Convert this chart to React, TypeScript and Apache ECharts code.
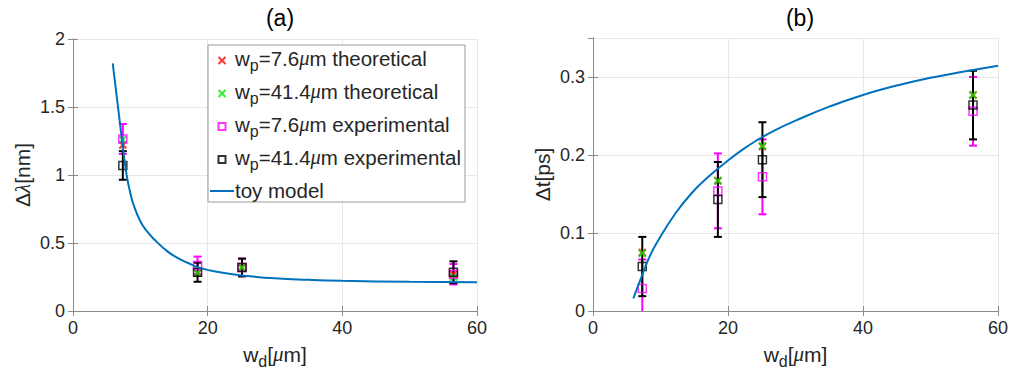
import React, { useEffect, useRef } from "react";
import * as echarts from "echarts";

// ---- Panel (a): spectral width vs w_d ----
const xA = [7.4, 18.5, 25.1, 56.5];
const thA76 = [1.22, 0.28, 0.32, 0.27];
const thA414 = [1.26, 0.28, 0.32, 0.25];
const expA76 = [1.265, 0.335, 0.32, 0.27];
const errA76 = [0.11, 0.065, 0.065, 0.075];
const expA414 = [1.07, 0.285, 0.32, 0.285];
const errA414 = [0.105, 0.07, 0.065, 0.08];
const toyAx = [5.9, 6.5, 7.0, 7.5, 8.0, 8.5, 9.0, 10, 11, 12.2, 13.5, 15, 17, 19, 22, 25, 30, 35, 40, 50, 60];
const toyAy = [1.82, 1.575, 1.37, 1.165, 0.99, 0.87, 0.78, 0.66, 0.585, 0.52, 0.46, 0.405, 0.355, 0.315, 0.283, 0.262, 0.24, 0.229, 0.222, 0.215, 0.211];

// ---- Panel (b): temporal delay vs w_d ----
const xB = [7.3, 18.5, 25.1, 56.3];
const thB76 = [0.075, 0.167, 0.211, 0.277];
const thB414 = [0.074, 0.167, 0.2115, 0.277];
const expB76 = [0.029, 0.154, 0.172, 0.256];
const errB76 = [0.037, 0.048, 0.048, 0.044];
const expB414 = [0.057, 0.143, 0.194, 0.264];
const errB414 = [0.038, 0.048, 0.048, 0.044];
const toyBx = [5.97, 7.2, 8.4, 9.7, 12.2, 14.6, 17.1, 19.6, 22, 24.5, 27, 30, 35, 40, 45, 50, 55, 60];
const toyBy = [0.016, 0.044, 0.07, 0.091, 0.125, 0.151, 0.172, 0.19, 0.206, 0.22, 0.232, 0.244, 0.262, 0.277, 0.289, 0.299, 0.307, 0.3145];

const N_TH76 = "th76";
const N_TH414 = "th414";
const N_EX76 = "ex76";
const N_EX414 = "ex414";
const N_TOY = "toy";

const FONT = "'Liberation Sans Narrow', 'Liberation Sans', Arial, sans-serif";
const SERIF = "'Liberation Serif', 'DejaVu Serif', serif";
const TXT = "#262626";
const BOX = "#8a8a8a";
const GRIDC = "#e8e8e8";
const RED = "#ff0000";
const GREEN = "#00e600";
const MAG = "#ff00ff";
const BLK = "#000000";
const BLUE = "#0072bd";
const XPATH = "path://M0,0L10,10M10,0L0,10";
const SQPATH = "path://M0,0H10V10H0Z";
const LINEPATH = "path://M0,0H24V2H0Z";

const zip = (xs: number[], ys: number[]) => xs.map((x, i) => [x, ys[i]]);
const zip3 = (xs: number[], ys: number[], es: number[]) => xs.map((x, i) => [x, ys[i], es[i]]);

function errRender(color: string) {
  return (params: any, api: any) => {
    const x = api.value(0);
    const y = api.value(1);
    const e = api.value(2);
    const top = api.coord([x, y + e]);
    const bot = api.coord([x, y - e]);
    const hw = 4;
    const style = { stroke: color, lineWidth: 2, fill: "none" };
    return {
      type: "group",
      children: [
        { type: "line", shape: { x1: top[0], y1: top[1], x2: bot[0], y2: bot[1] }, style },
        { type: "line", shape: { x1: top[0] - hw, y1: top[1], x2: top[0] + hw, y2: top[1] }, style },
        { type: "line", shape: { x1: bot[0] - hw, y1: bot[1], x2: bot[0] + hw, y2: bot[1] }, style },
      ],
    };
  };
}

function panelSeries(
  gi: number,
  xs: number[],
  th76: number[],
  th414: number[],
  ex76: number[],
  er76: number[],
  ex414: number[],
  er414: number[],
  tx: number[],
  ty: number[]
) {
  const ax = { xAxisIndex: gi, yAxisIndex: gi };
  return [
    { type: "custom", name: "err76_" + gi, ...ax, clip: true, renderItem: errRender(MAG), data: zip3(xs, ex76, er76), z: 2, silent: true },
    { type: "custom", name: "err414_" + gi, ...ax, clip: true, renderItem: errRender(BLK), data: zip3(xs, ex414, er414), z: 3, silent: true },
    {
      type: "scatter", name: N_TH76, ...ax, symbol: XPATH, symbolSize: 7,
      itemStyle: { color: RED, borderColor: RED, borderWidth: 2 }, data: zip(xs, th76), z: 4,
    },
    {
      type: "scatter", name: N_TH414, ...ax, symbol: XPATH, symbolSize: 7,
      itemStyle: { color: GREEN, borderColor: GREEN, borderWidth: 2 }, data: zip(xs, th414), z: 5,
    },
    {
      type: "scatter", name: N_EX76, ...ax, symbol: SQPATH, symbolSize: 8,
      itemStyle: { color: "rgba(0,0,0,0)", borderColor: MAG, borderWidth: 1.5 }, data: zip(xs, ex76), z: 6,
    },
    {
      type: "scatter", name: N_EX414, ...ax, symbol: SQPATH, symbolSize: 8,
      itemStyle: { color: "rgba(0,0,0,0)", borderColor: BLK, borderWidth: 1.5 }, data: zip(xs, ex414), z: 7,
    },
    {
      type: "line", name: N_TOY, ...ax, smooth: 0.5, showSymbol: false, symbol: "none",
      lineStyle: { color: BLUE, width: 2 }, itemStyle: { color: BLUE }, data: zip(tx, ty), z: 8,
    },
  ];
}

const legendLabels: Record<string, string> = {
  [N_TH76]: "{b|w}{s|p}{b|=7.6}{mu|μ}{b|m theoretical}",
  [N_TH414]: "{b|w}{s|p}{b|=41.4}{mu|μ}{b|m theoretical}",
  [N_EX76]: "{b|w}{s|p}{b|=7.6}{mu|μ}{b|m experimental}",
  [N_EX414]: "{b|w}{s|p}{b|=41.4}{mu|μ}{b|m experimental}",
  [N_TOY]: "{b|toy model}",
};

export default function App() {
  const ref = useRef<HTMLDivElement>(null);
  useEffect(() => {
    if (!ref.current) return;
    const chart = echarts.init(ref.current, null, { renderer: "svg" });
    const grids = [
      { left: 73, top: 39, width: 404, height: 272 },
      { left: 593, top: 38, width: 405, height: 273 },
    ];
    const mainX = (gi: number) => ({
      type: "value",
      gridIndex: gi,
      min: 0,
      max: 60,
      interval: 20,
      name: "{b|w}{s|d}{b|[}{mu|μ}{b|m]}",
      nameLocation: "middle",
      nameGap: 28,
      nameTextStyle: {
        color: TXT,
        rich: {
          b: { fontSize: 21, fontFamily: FONT, color: TXT },
          s: { fontSize: 16, fontFamily: FONT, color: TXT, padding: [14, 0, 0, 0] },
          mu: { fontSize: 21, fontFamily: SERIF, fontStyle: "italic", color: TXT },
        },
      },
      axisLine: { show: true, lineStyle: { color: BOX } },
      axisTick: { show: true, inside: true, length: 5, lineStyle: { color: BOX } },
      axisLabel: { color: TXT, fontSize: 18, fontFamily: FONT, margin: 8 },
      splitLine: { show: true, lineStyle: { color: GRIDC } },
    });
    const topX = (gi: number) => ({
      type: "value",
      gridIndex: gi,
      position: "top",
      min: 0,
      max: 60,
      interval: 20,
      axisLine: { show: true, lineStyle: { color: BOX } },
      axisTick: { show: true, inside: true, length: 5, lineStyle: { color: BOX } },
      axisLabel: { show: false },
      splitLine: { show: false },
    });
    const richY = {
      b: { fontSize: 21, fontFamily: FONT, color: TXT },
      g: { fontSize: 21, fontFamily: SERIF, fontStyle: "italic", color: TXT },
    };
    const yA = {
      type: "value",
      gridIndex: 0,
      min: 0,
      max: 2,
      interval: 0.5,
      name: "{b|Δ}{g|λ}{b|[nm]}",
      nameLocation: "middle",
      nameGap: 40,
      nameTextStyle: { rich: richY },
      axisLine: { show: true, lineStyle: { color: BOX } },
      axisTick: { show: true, inside: true, length: 5, lineStyle: { color: BOX } },
      axisLabel: { color: TXT, fontSize: 18, fontFamily: FONT, margin: 8 },
      splitLine: { show: true, lineStyle: { color: GRIDC } },
    };
    const yB = {
      type: "value",
      gridIndex: 1,
      min: 0,
      max: 0.35,
      interval: 0.1,
      name: "{b|Δt[ps]}",
      nameLocation: "middle",
      nameGap: 40,
      nameTextStyle: { rich: richY },
      axisLine: { show: true, lineStyle: { color: BOX } },
      axisTick: { show: true, inside: true, length: 5, lineStyle: { color: BOX } },
      axisLabel: {
        color: TXT,
        fontSize: 18,
        fontFamily: FONT,
        margin: 8,
        showMaxLabel: false,
        formatter: (v: number) => (Math.abs(v * 10 - Math.round(v * 10)) < 1e-6 ? String(+v.toFixed(1)) : ""),
      },
      splitLine: { show: true, lineStyle: { color: GRIDC } },
    };
    const rightY = (gi: number, max: number, interval: number) => ({
      type: "value",
      gridIndex: gi,
      position: "right",
      min: 0,
      max,
      interval,
      axisLine: { show: true, lineStyle: { color: BOX } },
      axisTick: { show: true, inside: true, length: 5, lineStyle: { color: BOX } },
      axisLabel: { show: false },
      splitLine: { show: false },
    });

    chart.setOption({
      animation: false,
      backgroundColor: "#ffffff",
      title: [
        { text: "(a)", left: 275, top: 1, textAlign: "center", textStyle: { fontSize: 23, fontWeight: "normal", color: "#000", fontFamily: FONT } },
        { text: "(b)", left: 795, top: 1, textAlign: "center", textStyle: { fontSize: 23, fontWeight: "normal", color: "#000", fontFamily: FONT } },
      ],
      grid: grids,
      xAxis: [mainX(0), mainX(1), topX(0), topX(1)],
      yAxis: [yA, yB, rightY(0, 2, 0.5), rightY(1, 0.35, 0.1)],
      legend: {
        orient: "vertical",
        left: 208,
        top: 45,
        itemWidth: 24,
        itemHeight: 7,
        itemGap: 8,
        padding: [3, 4, 1, 2],
        borderColor: "#999",
        borderWidth: 1,
        backgroundColor: "#fff",
        selectedMode: false,
        data: [
          { name: N_TH76 },
          { name: N_TH414 },
          { name: N_EX76 },
          { name: N_EX414 },
          { name: N_TOY, icon: LINEPATH },
        ],
        formatter: (name: string) => legendLabels[name] || name,
        textStyle: {
          color: TXT,
          padding: [0, 0, 0, -4],
          rich: {
            b: { fontSize: 20.5, fontFamily: FONT, color: TXT, lineHeight: 22, verticalAlign: "top" },
            s: { fontSize: 16, fontFamily: FONT, color: TXT, padding: [9, 0, 0, 0], verticalAlign: "top" },
            mu: { fontSize: 20.5, fontFamily: SERIF, fontStyle: "italic", color: TXT, lineHeight: 22, verticalAlign: "top" },
          },
        },
      },
      series: [
        ...panelSeries(0, xA, thA76, thA414, expA76, errA76, expA414, errA414, toyAx, toyAy),
        ...panelSeries(1, xB, thB76, thB414, expB76, errB76, expB414, errB414, toyBx, toyBy),
      ],
    });
    return () => chart.dispose();
  }, []);
  return (
    <div
      ref={ref}
      style={{ position: "fixed", left: 0, top: 0, width: 1012, height: 377, background: "#fff" }}
    />
  );
}
